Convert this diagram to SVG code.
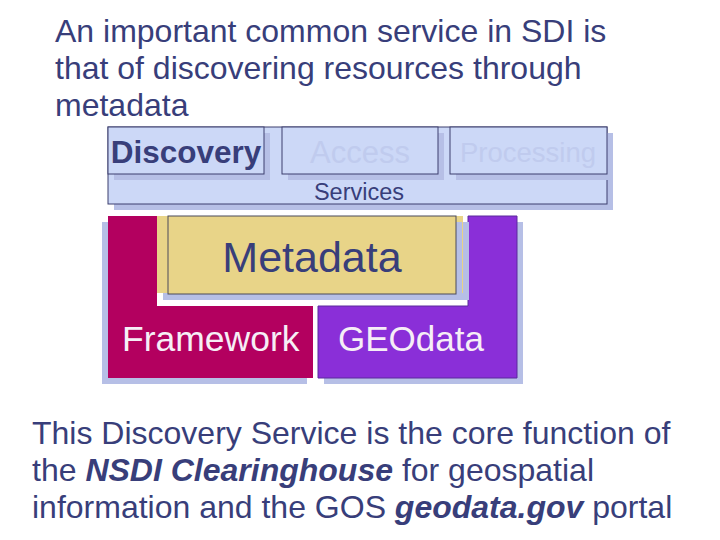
<svg xmlns="http://www.w3.org/2000/svg" width="720" height="540" viewBox="0 0 720 540">
<style>
text{font-family:"Liberation Sans",Arial,sans-serif;}
.body{font-size:32px;fill:#383e7a;}
.bi{font-weight:bold;font-style:italic;}
.svc{fill:#ccd8f7;stroke:#3d3f6e;stroke-width:1;}
.shd{fill:#b6bfe6;}
.faint{fill:#c0cbee;}
.navy{fill:#383e7a;}
.white{fill:#f6eef6;}
</style>
<rect width="720" height="540" fill="#ffffff"/>
<g id="intro">
<text class="body" x="55" y="42">An important common service in SDI is</text>
<text class="body" x="55" y="79">that of discovering resources through</text>
<text class="body" x="55" y="116">metadata</text>
</g>
<g id="services">
<rect class="shd" x="114" y="133" width="499" height="77"/>
<rect class="svc" x="108" y="127" width="499" height="77"/>
<text class="navy" x="359" y="200" font-size="23.5" text-anchor="middle">Services</text>
</g>
<g id="discovery">
<rect class="shd" x="114" y="133" width="156" height="47"/>
<rect class="svc" x="108" y="127" width="156" height="47"/>
<text class="navy" x="186" y="163" font-size="31.5" font-weight="bold" text-anchor="middle">Discovery</text>
</g>
<g id="access">
<rect class="shd" x="288" y="133" width="156" height="47"/>
<rect class="svc" x="282" y="127" width="156" height="47"/>
<text class="faint" x="360" y="163" font-size="31" text-anchor="middle">Access</text>
</g>
<g id="processing">
<rect class="shd" x="456" y="133" width="157" height="47"/>
<rect class="svc" x="450" y="127" width="157" height="47"/>
<text class="faint" x="528" y="162" font-size="27.5" text-anchor="middle">Processing</text>
</g>
<g id="framework">
<path class="shd" d="M102 222 H151 V312 H307 V384 H102 Z"/>
<path d="M108 216 H157 V306 H313 V378 H108 Z" fill="#b3005f"/>
<text class="white" x="122" y="351" font-size="35.5">Framework</text>
</g>
<g id="geodata">
<path class="shd" d="M474 222 H523 V384 H324 V312 H474 Z"/>
<path d="M468 216 H517 V378 H318 V306 H468 Z" fill="#8a2fd8" stroke="#5b2a9c" stroke-width="1"/>
<text class="white" x="338" y="351" font-size="35">GEOdata</text>
</g>
<g id="metadata">
<rect class="shd" x="163" y="222" width="306" height="78"/>
<rect x="157" y="216" width="306" height="77" fill="#e8d488"/>
<rect class="shd" x="174" y="222" width="288" height="78"/>
<rect x="168" y="216" width="288" height="78" fill="#e8d488" stroke="#4a4a5a" stroke-width="1"/>
<text class="navy" x="312" y="272" font-size="43" text-anchor="middle">Metadata</text>
</g>
<g id="note">
<text class="body" x="32" y="444">This Discovery Service is the core function of</text>
<text class="body" x="32" y="481">the <tspan class="bi">NSDI Clearinghouse</tspan> for geospatial</text>
<text class="body" x="32" y="518">information and the GOS <tspan class="bi">geodata.gov</tspan> portal</text>
</g>
</svg>
